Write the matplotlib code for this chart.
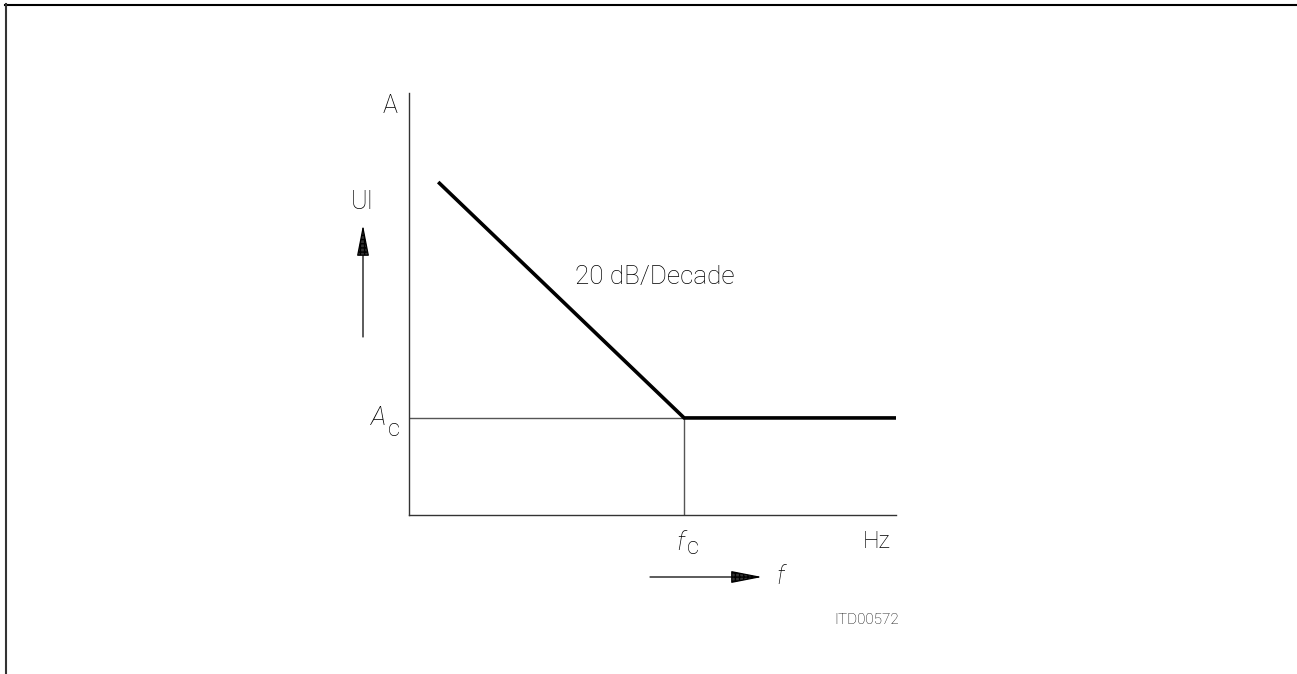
import matplotlib
matplotlib.use("Agg")
import matplotlib.pyplot as plt
from matplotlib.lines import Line2D
from matplotlib.patches import FancyArrowPatch

# log-frequency (normalised) and amplitude (normalised) of the asymptote
freq = [0.06, 0.565, 1.0]
amp = [0.789, 0.23, 0.23]
f_c = 0.565
A_c = 0.23
slope_label = "20 dB/Decade"
fig_id = "ITD00572"

W, H = 1297, 674
plt.rcParams['font.family'] = ['Roboto', 'DejaVu Sans']
plt.rcParams['font.weight'] = 'light'

fig = plt.figure(figsize=(W / 100, H / 100), dpi=100)


def px(x, y):
    # pixel position (from top-left) -> figure fraction
    return x / W, 1 - y / H


# axes box: x 409..896, y 93..515 in pixels
ax = fig.add_axes([409 / W, 1 - 515 / H, 487 / W, 422 / H])
ax.set_xlim(0, 1)
ax.set_ylim(0, 1)
for s in ['top', 'right']:
    ax.spines[s].set_visible(False)
for s in ['left', 'bottom']:
    ax.spines[s].set_linewidth(1.0)
    ax.spines[s].set_color('#333333')
ax.set_xticks([])
ax.set_yticks([])

# guide lines to the corner point
ax.plot([0, f_c], [A_c, A_c], color='#555555', lw=1.0)
ax.plot([f_c, f_c], [0, A_c], color='#555555', lw=1.0)

# the response
ax.plot(freq, amp, color='black', lw=2.6, solid_capstyle='butt', solid_joinstyle='miter')

txt = dict(color='black', ha='center', va='center', fontweight='light')
fig.text(*px(390, 106), "A", fontsize=18, **txt)
fig.text(*px(362, 202), "UI", fontsize=18, **txt)
fig.text(*px(379, 418), "A", fontsize=19, style='italic', **txt)
fig.text(*px(393.5, 430), "c", fontsize=17, **txt)
fig.text(*px(680, 543), "f", fontsize=19, style='italic', **txt)
fig.text(*px(692.5, 548), "c", fontsize=17, **txt)
fig.text(*px(877, 541), "Hz", fontsize=17, **txt)
fig.text(*px(780, 577), "f", fontsize=18, style='italic', **txt)
fig.text(*px(655, 277), slope_label, fontsize=18.8, **txt)
fig.text(*px(867, 620), fig_id, fontsize=11, **txt)

arrow = dict(arrowstyle='-|>,head_length=1.94,head_width=0.38', mutation_scale=10,
             lw=0.9, color='black', fc='#333333', hatch='++++', shrinkA=0, shrinkB=0)
fig.add_artist(FancyArrowPatch(px(363, 337), px(363, 225),
                               transform=fig.transFigure, **arrow))
fig.add_artist(FancyArrowPatch(px(650, 577), px(762, 577),
                               transform=fig.transFigure, **arrow))

# page frame (top and left edges)
fig.add_artist(Line2D([px(5, 0)[0], 1], [px(0, 4.5)[1]] * 2, color='black', lw=1.5,
                      transform=fig.transFigure))
fig.add_artist(Line2D([px(5.5, 0)[0]] * 2, [px(0, 4)[1], 0], color='#333333', lw=1.5,
                      transform=fig.transFigure))

fig.savefig("out.png", dpi=100)
